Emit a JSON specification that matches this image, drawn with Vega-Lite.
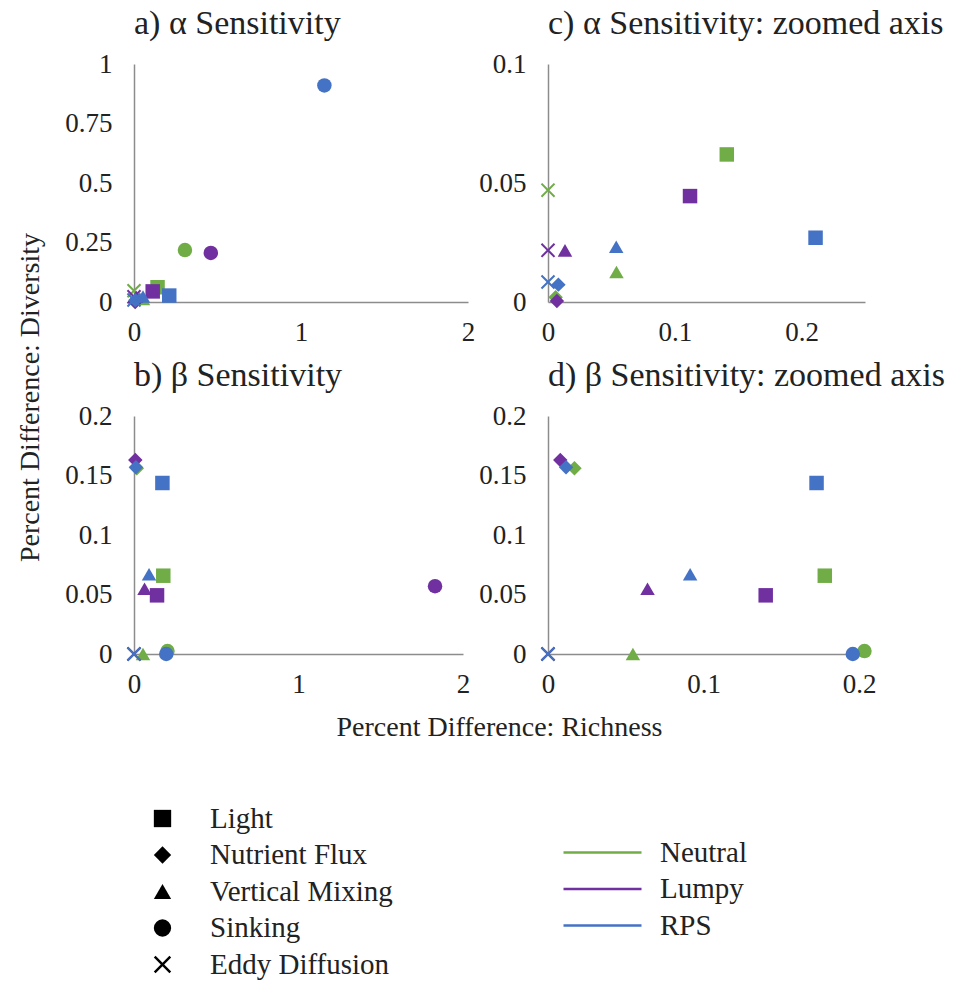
{
  "$schema": "https://vega.github.io/schema/vega-lite/v6.json",
  "background": "white",
  "padding": {"left": 16, "top": 7, "right": 5, "bottom": 5},
  "config": {
    "font": "Liberation Serif",
    "view": {"stroke": null},
    "axis": {"grid": false, "ticks": false, "labelFlush": false, "labelOverlap": false, "domainColor": "#8c8c8c", "domainWidth": 1.5, "labelFont": "Liberation Serif", "labelFontSize": 27, "labelColor": "#222222", "titleFont": "Liberation Serif", "titleFontSize": 28, "titleFontWeight": "normal", "titleColor": "#222222"},
    "axisX": {"labelPadding": 17},
    "axisY": {"labelPadding": 22},
    "title": {"font": "Liberation Serif", "fontSize": 34, "fontWeight": "normal", "color": "#222222", "anchor": "start", "frame": "group", "offset": 9},
    "legend": {"labelFont": "Liberation Serif", "labelFontSize": 29, "labelColor": "#222222", "padding": 0, "labelLimit": 400}
  },
  "datasets": {
    "pts": [
      {"sens": "alpha", "model": "Neutral", "param": "Light", "rich": 0.141, "div": 0.062},
      {"sens": "alpha", "model": "Neutral", "param": "Nutrient Flux", "rich": 0.006, "div": 0.002},
      {"sens": "alpha", "model": "Neutral", "param": "Vertical Mixing", "rich": 0.054, "div": 0.0126},
      {"sens": "alpha", "model": "Neutral", "param": "Sinking", "rich": 0.305, "div": 0.218},
      {"sens": "alpha", "model": "Neutral", "param": "Eddy Diffusion", "rich": 0, "div": 0.047},
      {"sens": "alpha", "model": "Lumpy", "param": "Light", "rich": 0.112, "div": 0.0445},
      {"sens": "alpha", "model": "Lumpy", "param": "Nutrient Flux", "rich": 0.007, "div": 0.0004},
      {"sens": "alpha", "model": "Lumpy", "param": "Vertical Mixing", "rich": 0.0134, "div": 0.0217},
      {"sens": "alpha", "model": "Lumpy", "param": "Sinking", "rich": 0.46, "div": 0.206},
      {"sens": "alpha", "model": "Lumpy", "param": "Eddy Diffusion", "rich": 0, "div": 0.0217},
      {"sens": "alpha", "model": "RPS", "param": "Light", "rich": 0.211, "div": 0.027},
      {"sens": "alpha", "model": "RPS", "param": "Nutrient Flux", "rich": 0.0082, "div": 0.0073},
      {"sens": "alpha", "model": "RPS", "param": "Vertical Mixing", "rich": 0.0538, "div": 0.0232},
      {"sens": "alpha", "model": "RPS", "param": "Sinking", "rich": 1.14, "div": 0.91},
      {"sens": "alpha", "model": "RPS", "param": "Eddy Diffusion", "rich": 0, "div": 0.0084},
      {"sens": "beta", "model": "Neutral", "param": "Light", "rich": 0.178, "div": 0.0658},
      {"sens": "beta", "model": "Neutral", "param": "Nutrient Flux", "rich": 0.017, "div": 0.156},
      {"sens": "beta", "model": "Neutral", "param": "Vertical Mixing", "rich": 0.0546, "div": 0},
      {"sens": "beta", "model": "Neutral", "param": "Sinking", "rich": 0.2035, "div": 0.0025},
      {"sens": "beta", "model": "Neutral", "param": "Eddy Diffusion", "rich": 0, "div": 0},
      {"sens": "beta", "model": "Lumpy", "param": "Light", "rich": 0.14, "div": 0.0493},
      {"sens": "beta", "model": "Lumpy", "param": "Nutrient Flux", "rich": 0.0079, "div": 0.163},
      {"sens": "beta", "model": "Lumpy", "param": "Vertical Mixing", "rich": 0.064, "div": 0.0549},
      {"sens": "beta", "model": "Lumpy", "param": "Sinking", "rich": 1.83, "div": 0.057},
      {"sens": "beta", "model": "Lumpy", "param": "Eddy Diffusion", "rich": 0, "div": 0},
      {"sens": "beta", "model": "RPS", "param": "Light", "rich": 0.1727, "div": 0.1437},
      {"sens": "beta", "model": "RPS", "param": "Nutrient Flux", "rich": 0.0116, "div": 0.157},
      {"sens": "beta", "model": "RPS", "param": "Vertical Mixing", "rich": 0.0914, "div": 0.067},
      {"sens": "beta", "model": "RPS", "param": "Sinking", "rich": 0.196, "div": 0},
      {"sens": "beta", "model": "RPS", "param": "Eddy Diffusion", "rich": 0, "div": 0}
    ]
  },
  "bounds": "flush",
  "columns": 2,
  "spacing": {"row": 114, "column": 80},
  "concat": [
    {
      "width": 334, "height": 238,
      "title": "a) α Sensitivity",
      "data": {"name": "pts"},
      "transform": [{"filter": "datum.sens === 'alpha'"}],
      "mark": {"type": "point", "filled": true, "opacity": 1, "size": 210},
      "encoding": {
        "x": {"field": "rich", "type": "quantitative", "title": null, "scale": {"domain": [0, 2], "nice": false}, "axis": {"values": [0, 1, 2], "format": ".3~f"}},
        "y": {"field": "div", "type": "quantitative", "scale": {"domain": [0, 1], "nice": false},
          "axis": {"values": [0, 0.25, 0.5, 0.75, 1], "format": ".3~f", "title": "Percent Difference:  Diversity", "titleX": -104, "titleY": 333, "titleAlign": "center", "titleBaseline": "middle", "titleAngle": -90}},
        "shape": {"field": "param", "type": "nominal", "scale": {"domain": ["Light", "Nutrient Flux", "Vertical Mixing", "Sinking", "Eddy Diffusion"], "range": ["square", "diamond", "triangle-up", "circle", "M-0.8,-1L0,-0.2L0.8,-1L1,-0.8L0.2,0L1,0.8L0.8,1L0,0.2L-0.8,1L-1,0.8L-0.2,0L-1,-0.8Z"]},
          "legend": {"orient": "none", "legendX": 14, "legendY": 740, "title": null, "symbolSize": 300, "labelOffset": 33, "rowPadding": 6.5, "symbolStrokeWidth": 0,
            "encode": {"symbols": {"update": {"fill": {"value": "black"}, "stroke": {"value": "black"}, "opacity": {"value": 1}}}}}},
        "color": {"field": "model", "type": "nominal", "scale": {"domain": ["Neutral", "Lumpy", "RPS"], "range": ["#70ad47", "#7030a0", "#4472c4"]},
          "legend": {"orient": "none", "legendX": 454, "legendY": 774, "title": null, "symbolType": "M-3,-0.09L3,-0.09L3,0.09L-3,0.09Z", "symbolSize": 676, "symbolStrokeWidth": 0, "symbolOpacity": 0.75, "labelOffset": 43, "rowPadding": 6.5}}
      }
    },
    {
      "width": 317, "height": 238,
      "title": "c) α Sensitivity: zoomed axis",
      "data": {"name": "pts"},
      "transform": [{"filter": "datum.sens === 'alpha' && datum.rich <= 0.25 && datum.div <= 0.1"}],
      "mark": {"type": "point", "filled": true, "opacity": 1, "size": 210},
      "encoding": {
        "x": {"field": "rich", "type": "quantitative", "title": null, "scale": {"domain": [0, 0.25], "nice": false}, "axis": {"values": [0, 0.1, 0.2], "format": ".3~f"}},
        "y": {"field": "div", "type": "quantitative", "title": null, "scale": {"domain": [0, 0.1], "nice": false}, "axis": {"values": [0, 0.05, 0.1], "format": ".3~f"}},
        "shape": {"field": "param", "type": "nominal"},
        "color": {"field": "model", "type": "nominal"}
      }
    },
    {
      "width": 329, "height": 238,
      "title": "b) β Sensitivity",
      "data": {"name": "pts"},
      "transform": [{"filter": "datum.sens === 'beta'"}],
      "mark": {"type": "point", "filled": true, "opacity": 1, "size": 210},
      "encoding": {
        "x": {"field": "rich", "type": "quantitative", "scale": {"domain": [0, 2], "nice": false},
          "axis": {"values": [0, 1, 2], "format": ".3~f", "title": "Percent Difference:  Richness", "titleX": 365, "titleY": 73, "titleAlign": "center", "titleBaseline": "middle"}},
        "y": {"field": "div", "type": "quantitative", "title": null, "scale": {"domain": [0, 0.2], "nice": false}, "axis": {"values": [0, 0.05, 0.1, 0.15, 0.2], "format": ".3~f"}},
        "shape": {"field": "param", "type": "nominal"},
        "color": {"field": "model", "type": "nominal"}
      }
    },
    {
      "width": 311, "height": 238,
      "title": "d) β Sensitivity: zoomed  axis",
      "data": {"name": "pts"},
      "transform": [{"filter": "datum.sens === 'beta' && datum.rich <= 0.25 && datum.div <= 0.2"}],
      "mark": {"type": "point", "filled": true, "opacity": 1, "size": 210},
      "encoding": {
        "x": {"field": "rich", "type": "quantitative", "title": null, "scale": {"domain": [0, 0.2], "nice": false}, "axis": {"values": [0, 0.1, 0.2], "format": ".3~f"}},
        "y": {"field": "div", "type": "quantitative", "title": null, "scale": {"domain": [0, 0.2], "nice": false}, "axis": {"values": [0, 0.05, 0.1, 0.15, 0.2], "format": ".3~f"}},
        "shape": {"field": "param", "type": "nominal"},
        "color": {"field": "model", "type": "nominal"}
      }
    }
  ]
}
